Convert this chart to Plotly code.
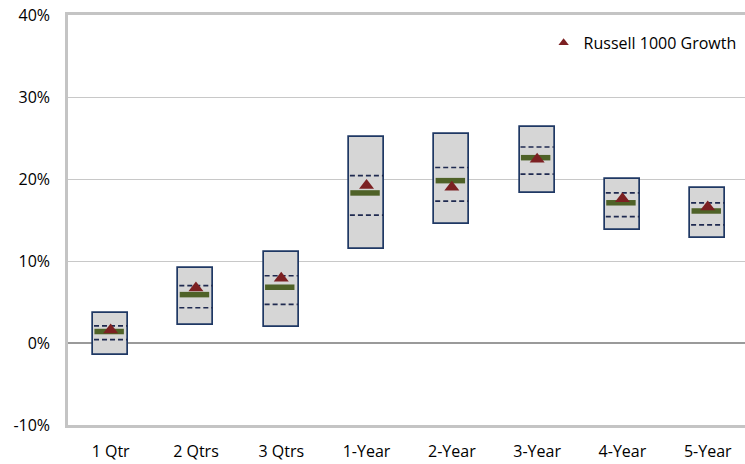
import plotly.graph_objects as go

categories = ["1 Qtr", "2 Qtrs", "3 Qtrs", "1-Year", "2-Year", "3-Year", "4-Year", "5-Year"]
high = [3.7, 9.1, 11.1, 25.1, 25.5, 26.4, 20.0, 18.9]
p75 = [2.1, 7.0, 8.2, 20.4, 21.4, 23.9, 18.3, 17.1]
median = [1.4, 5.9, 6.8, 18.3, 19.8, 22.6, 17.1, 16.1]
p25 = [0.4, 4.3, 4.7, 15.6, 17.3, 20.6, 15.4, 14.4]
low = [-1.5, 2.2, 2.0, 11.5, 14.5, 18.3, 13.8, 12.8]
russell = [1.6, 6.7, 7.9, 19.2, 19.0, 22.4, 17.6, 16.6]

y_ticks = [-10, 0, 10, 20, 30, 40]
y_ticktext = ["-10%", "0%", "10%", "20%", "30%", "40%"]

FONT = "Open Sans"
xs = list(range(len(categories)))
half = 0.205

fig = go.Figure()

# floating range boxes
fig.add_trace(go.Bar(
    x=xs, y=[h - l for h, l in zip(high, low)], base=low, width=2 * half,
    marker=dict(color="#D6D6D6", line=dict(color="#1F3864", width=1.7)),
    showlegend=False, hoverinfo="skip"))

def segs(vals, left, right):
    X, Y = [], []
    for i, v in zip(xs, vals):
        X += [i - left, i + right, None]
        Y += [v, v, None]
    return X, Y

for vals in (p75, p25):
    X, Y = segs(vals, half - 0.01, half - 0.01)
    fig.add_trace(go.Scatter(x=X, y=Y, mode="lines",
                             line=dict(color="#1F2A50", width=1.7, dash="5px,3px"),
                             showlegend=False, hoverinfo="skip"))

X, Y = segs(median, half - 0.015, half - 0.05)
fig.add_trace(go.Scatter(x=X, y=Y, mode="lines",
                         line=dict(color="#4F6228", width=5.5),
                         showlegend=False, hoverinfo="skip"))

fig.add_trace(go.Scatter(x=xs, y=russell, mode="markers", name="Russell 1000 Growth",
                         marker=dict(symbol="triangle-up", size=13, color="#7C2022"),
                         showlegend=False))
# legend entry (smaller symbol as in the reference)
fig.add_trace(go.Scatter(x=[None], y=[None], mode="markers", name="Russell 1000 Growth",
                         marker=dict(symbol="triangle-up", size=9, color="#7C2022")))

fig.update_layout(
    width=745, height=464,
    margin=dict(l=68, r=0, t=15, b=39, autoexpand=False),
    plot_bgcolor="white", paper_bgcolor="white",
    font=dict(family=FONT, size=16, color="#000000"),
    bargap=0,
    legend=dict(x=0.995, y=0.932, xanchor="right", yanchor="middle",
                font=dict(family=FONT, size=16, color="#000000"),
                bgcolor="rgba(0,0,0,0)", itemwidth=30),
    xaxis=dict(range=[-0.5, 7.437], tickmode="array", tickvals=xs, ticktext=categories,
               showgrid=False, zeroline=False, showline=True, mirror=True,
               linecolor="#C4C4C4", linewidth=2.5, ticks="", ticklen=0,
               ticklabelstandoff=10, tickfont=dict(size=16), automargin=False),
    yaxis=dict(range=[-10, 40], tickmode="array", tickvals=y_ticks, ticktext=y_ticktext,
               showgrid=True, gridcolor="#C8C8C8", gridwidth=1.3,
               zeroline=True, zerolinecolor="#9A9A9A", zerolinewidth=1.5,
               showline=True, linecolor="#C4C4C4", linewidth=2.5, ticks="",
               ticklabelstandoff=12, tickfont=dict(size=16), automargin=False,
               ticklabeloverflow="allow"),
)

fig.write_html("out.html", config={"displayModeBar": False},
               post_script="document.body.style.margin='0';document.body.style.overflow='hidden';")
